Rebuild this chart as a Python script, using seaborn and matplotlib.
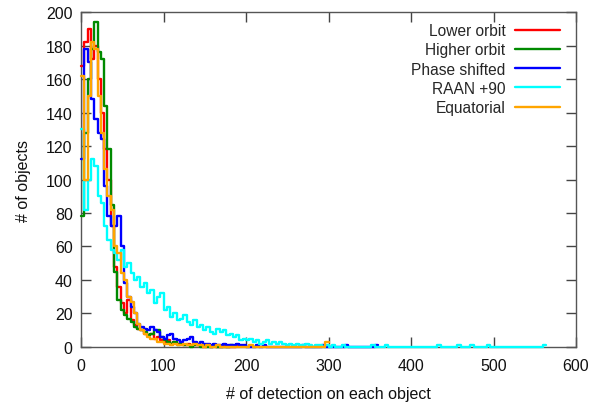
import numpy as np
import pandas as pd
import matplotlib
matplotlib.use("Agg")
import matplotlib.pyplot as plt
from matplotlib.lines import Line2D
import seaborn as sns

# ---------------- data (histogram counts, bin width 4, starting at 0) ----------------
bin_width = 4
series_names = ["Lower orbit", "Higher orbit", "Phase shifted", "RAAN +90", "Equatorial"]
series_colors = ["#ff0000", "#008a00", "#0000ff", "#00ffff", "#ffa500"]

lower_orbit = [168, 182, 190, 172, 180, 160, 140, 118, 100, 72, 48, 36, 26, 20, 28, 16,
               13, 11, 10, 8, 7, 8, 5, 6, 4, 3, 4, 2, 3, 2, 2, 1, 2, 1, 1, 1, 1, 0, 1, 0,
               1, 0, 0, 1, 0, 0, 0, 1]
lower_orbit_tail_bins = []
lower_orbit_tail_vals = []

higher_orbit = [78, 128, 160, 178, 194, 176, 172, 144, 118, 85, 45, 28, 22, 19, 17, 15,
                12, 11, 10, 9, 7, 8, 10, 10, 6, 4, 3, 2, 3, 1, 2, 1, 1, 0, 1, 1, 0, 1, 0, 0,
                1, 0, 0, 0, 0, 1]
higher_orbit_tail_bins = []
higher_orbit_tail_vals = []

phase_shifted = [112, 178, 170, 148, 136, 128, 124, 96, 78, 72, 72, 78, 60, 38, 30, 24,
                 20, 14, 12, 11, 10, 12, 10, 9, 6, 5, 7, 8, 5, 4, 3, 4, 5, 6, 3, 2, 3, 2, 2, 1,
                 2, 1, 1, 2, 1, 1, 1, 2, 1, 1]
phase_shifted_tail_bins = [53, 55, 67, 73, 80, 89]
phase_shifted_tail_vals = [1, 1, 1, 1, 1, 1]

raan_90 = [130, 82, 100, 112, 108, 90, 86, 72, 64, 58, 56, 52, 58, 48, 50, 44,
           40, 42, 36, 38, 32, 34, 26, 30, 32, 22, 24, 18, 20, 16, 17, 19,
           15, 13, 16, 12, 13, 10, 12, 9, 8, 11, 9, 10, 7, 8, 6, 7,
           4, 5, 4, 5, 3, 4, 2, 3, 4, 2, 3, 2, 3, 2, 1, 2,
           1, 2, 1, 1, 2, 1, 0, 1, 1, 0, 1]
raan_90_tail_bins = [76, 79, 88, 92, 108, 114, 118, 123, 140]
raan_90_tail_vals = [1, 1, 1, 1, 1, 1, 1, 1, 1]

equatorial = [162, 100, 150, 182, 178, 150, 128, 106, 90, 82, 60, 56, 44, 40, 30, 27,
              20, 14, 10, 8, 6, 5, 5, 3, 3, 2, 2, 1, 2, 1, 1, 2, 1, 1, 2, 1, 1, 0, 1, 0,
              0, 1]
equatorial_tail_bins = [51, 74]
equatorial_tail_vals = [1, 3]

x_ticks = [0, 100, 200, 300, 400, 500, 600]
y_ticks = [0, 20, 40, 60, 80, 100, 120, 140, 160, 180, 200]
x_label = "# of detection on each object"
y_label = "# of objects"

all_series = [
    (lower_orbit, lower_orbit_tail_bins, lower_orbit_tail_vals),
    (higher_orbit, higher_orbit_tail_bins, higher_orbit_tail_vals),
    (phase_shifted, phase_shifted_tail_bins, phase_shifted_tail_vals),
    (raan_90, raan_90_tail_bins, raan_90_tail_vals),
    (equatorial, equatorial_tail_bins, equatorial_tail_vals),
]


def build_counts(head, tail_bins, tail_vals):
    n = max([len(head)] + [b + 1 for b in tail_bins])
    counts = np.zeros(n)
    counts[:len(head)] = head
    for b, v in zip(tail_bins, tail_vals):
        counts[b] = v
    return counts


# ---------------- plot ----------------
sns.set_style("ticks")
plt.rcParams["font.family"] = ["Liberation Sans", "DejaVu Sans"]

fig = plt.figure(figsize=(5.9, 4.06), dpi=100)
ax = fig.add_axes([0.1373, 0.1429, 0.839, 0.825])

handles = []
for i, ((head, tb, tv), name, color) in enumerate(zip(all_series, series_names, series_colors)):
    counts = build_counts(head, tb, tv)
    edges = (np.arange(len(counts) + 1) * bin_width).tolist()
    df = pd.DataFrame({"center": np.arange(len(counts)) * bin_width + bin_width / 2,
                       "count": counts})
    sns.histplot(data=df, x="center", weights="count", bins=edges, element="step",
                 fill=False, color=color, linewidth=1.7, ax=ax, zorder=3 + i)
    handles.append(Line2D([], [], color=color, linewidth=1.7, label=name))

for art in ax.lines + list(ax.patches):
    art.set_clip_on(False)

ax.set_xlim(0, 600)
ax.set_ylim(0, 200)
ax.set_xticks(x_ticks)
ax.set_yticks(y_ticks)
ax.tick_params(direction="in", length=7, width=1, color="#444444",
               top=True, right=True, labelsize=11.5, labelcolor="#111111")
ax.tick_params(axis="x", pad=8)
ax.tick_params(axis="y", pad=6)
for sp in ax.spines.values():
    sp.set_visible(True)
    sp.set_color("#555555")
    sp.set_linewidth(1)
    sp.set_zorder(2)

ax.set_xlabel(x_label, fontsize=11.5, color="#111111", labelpad=9)
ax.set_ylabel(y_label, fontsize=11.5, color="#111111", labelpad=11)

leg = ax.legend(handles=handles, loc="upper right", markerfirst=False, frameon=False,
                fontsize=11.2, handlelength=2.9, handletextpad=0.6, labelspacing=0.27,
                borderaxespad=0.0, bbox_to_anchor=(0.98, 0.985))

fig.savefig("out.png", dpi=100)
